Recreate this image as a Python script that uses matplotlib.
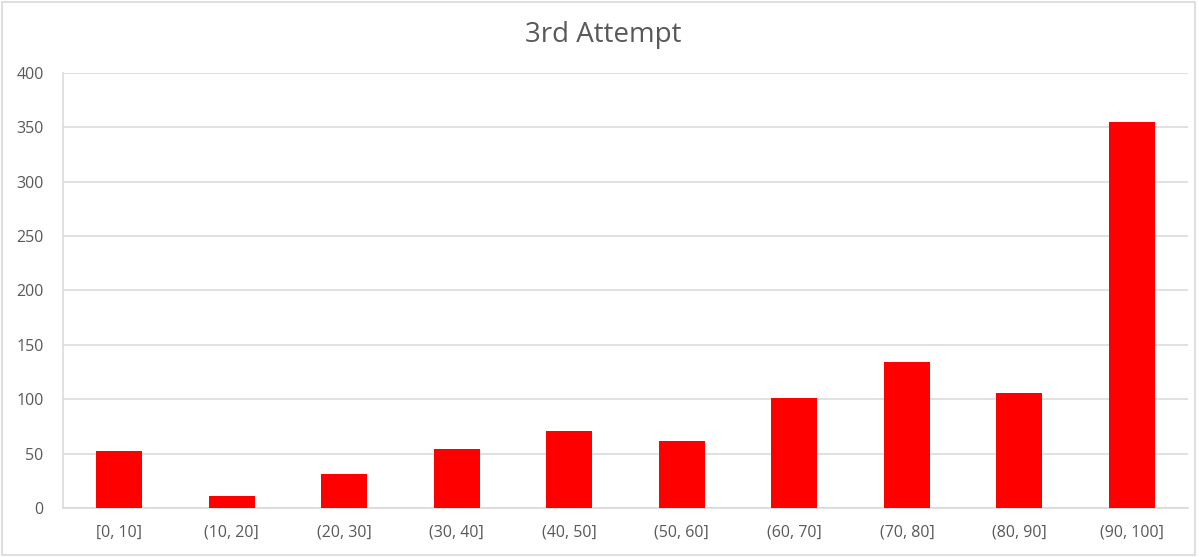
import matplotlib
matplotlib.use('Agg')
import matplotlib.pyplot as plt
import matplotlib.patches as patches
import numpy as np

# values
categories = ['[0, 10]', '(10, 20]', '(20, 30]', '(30, 40]', '(40, 50]',
              '(50, 60]', '(60, 70]', '(70, 80]', '(80, 90]', '(90, 100]']
counts = [52, 11, 31, 54, 71, 62, 101, 134, 106, 355]
y_ticks = [0, 50, 100, 150, 200, 250, 300, 350, 400]

text_grey = '#595959'
line_grey = '#d9d9d9'

plt.rcParams['font.family'] = ['Open Sans', 'DejaVu Sans']

fig = plt.figure(figsize=(11.99, 5.57), dpi=100)
ax = fig.add_axes([0.0525, 0.088, 0.9385, 0.781])

x = np.arange(len(categories))
ax.bar(x, counts, width=0.41, color='#ff0000', zorder=3)

ax.set_xlim(-0.5, len(categories) - 0.5)
ax.set_ylim(0, 400)
ax.set_xticks(x)
ax.set_xticklabels(categories)
ax.set_yticks(y_ticks)

ax.grid(axis='y', color=line_grey, linewidth=1.1, zorder=0)
for side in ['top', 'right']:
    ax.spines[side].set_visible(False)
ax.spines['left'].set_color(line_grey)
ax.spines['bottom'].set_color(line_grey)
ax.spines['left'].set_linewidth(1.1)
ax.spines['bottom'].set_linewidth(1.1)
ax.tick_params(axis='both', length=0, colors=text_grey, labelsize=11.5)
ax.tick_params(axis='y', pad=14)
ax.tick_params(axis='x', pad=12)

fig.text(0.503, 0.937, '3rd Attempt', ha='center', va='center',
         fontsize=20, color=text_grey)

# thin chart border around the whole figure
border = patches.Rectangle((0.002, 0.003), 0.995, 0.993, transform=fig.transFigure,
                           fill=False, edgecolor=line_grey, linewidth=1.2)
fig.patches.append(border)

fig.savefig('out.png', dpi=100)
